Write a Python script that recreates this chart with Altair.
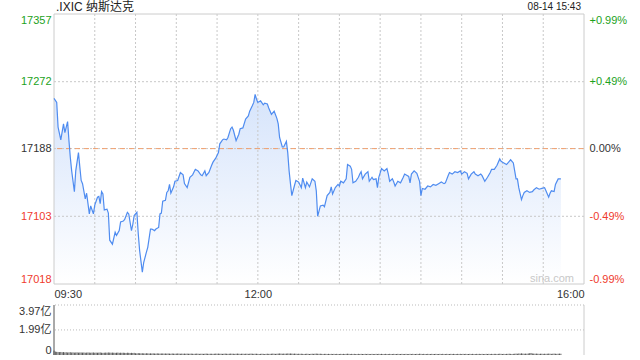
import json
import altair as alt
import pandas as pd

TITLE = ".IXIC 纳斯达克"
STAMP = "08-14 15:43"
WATERMARK = "sina.com"

# minutes after 09:30 and index level
minutes = [0, 2, 3, 5, 7, 8, 10, 11, 12, 13, 15, 16, 18, 19, 20, 21, 23, 24, 26, 27,
           29, 30, 32, 33, 34, 35, 36, 37, 39, 40, 41, 43, 45, 46, 48, 49, 51, 52, 54, 55,
           57, 58, 59, 61, 62, 63, 65, 66, 68, 69, 71, 72, 74, 75, 77, 78, 79, 80, 82, 83,
           84, 85, 86, 88, 89, 91, 93, 95, 96, 98, 100, 102, 104, 106, 108, 109, 111, 112, 114, 116,
           117, 119, 121, 122, 124, 125, 127, 128, 130, 131, 132, 134, 136, 137, 139, 141, 143, 144, 146, 147,
           148, 149, 150, 152, 154, 155, 157, 158, 160, 162, 164, 165, 166, 168, 169, 171, 172, 173, 174, 175,
           177, 178, 180, 182, 183, 185, 186, 188, 190, 192, 193, 194, 196, 198, 199, 201, 203, 204, 205, 207,
           209, 210, 211, 213, 215, 216, 218, 219, 220, 222, 224, 225, 226, 227, 229, 231, 232, 234, 235, 237,
           238, 239, 241, 243, 245, 246, 247, 249, 250, 251, 253, 255, 257, 258, 261, 262, 263, 265, 267, 269,
           270, 271, 273, 275, 277, 279, 281, 283, 285, 287, 288, 290, 291, 293, 295, 297, 299, 300, 302, 304,
           305, 307, 309, 310, 312, 314, 315, 317, 319, 321, 322, 324, 326, 328, 329, 331, 333, 335, 336, 338,
           339, 340, 341, 342, 344, 345, 346, 348, 350, 352, 353, 355, 357, 359, 361, 362, 364, 365, 366, 368,
           369, 371, 373]
prices = [17251, 17246, 17215, 17199, 17219, 17208, 17222, 17198, 17177, 17160, 17134, 17160, 17183, 17165, 17148, 17144, 17125, 17132, 17106, 17116,
          17106, 17117, 17127, 17128, 17119, 17134, 17131, 17111, 17112, 17107, 17073, 17068, 17083, 17079, 17085, 17096, 17097, 17099, 17108, 17106,
          17085, 17093, 17104, 17108, 17081, 17060, 17033, 17045, 17058, 17064, 17087, 17087, 17085, 17087, 17089, 17106, 17107, 17122, 17123, 17133,
          17135, 17143, 17132, 17140, 17147, 17148, 17158, 17155, 17144, 17139, 17152, 17155, 17162, 17160, 17155, 17154, 17160, 17154, 17158, 17167,
          17171, 17176, 17183, 17194, 17199, 17200, 17199, 17202, 17213, 17215, 17211, 17198, 17206, 17213, 17214, 17225, 17229, 17235, 17242, 17246,
          17256, 17250, 17246, 17248, 17243, 17245, 17244, 17239, 17231, 17235, 17226, 17219, 17202, 17190, 17190, 17197, 17183, 17160, 17144, 17129,
          17142, 17148, 17146, 17139, 17151, 17139, 17146, 17140, 17150, 17147, 17135, 17103, 17116, 17117, 17115, 17129, 17133, 17140, 17131, 17139,
          17143, 17141, 17147, 17145, 17150, 17168, 17166, 17162, 17145, 17147, 17152, 17156, 17159, 17150, 17156, 17159, 17147, 17152, 17149, 17150,
          17139, 17152, 17163, 17160, 17163, 17156, 17147, 17150, 17146, 17141, 17147, 17145, 17152, 17156, 17153, 17145, 17156, 17160, 17157, 17147,
          17129, 17138, 17137, 17141, 17140, 17143, 17142, 17144, 17146, 17144, 17145, 17154, 17158, 17156, 17159, 17158, 17160, 17156, 17159, 17157,
          17150, 17156, 17159, 17156, 17154, 17156, 17154, 17147, 17152, 17158, 17162, 17162, 17167, 17175, 17172, 17170, 17168, 17172, 17174, 17170,
          17160, 17150, 17150, 17139, 17124, 17129, 17133, 17135, 17133, 17134, 17136, 17139, 17137, 17138, 17139, 17135, 17127, 17132, 17135, 17134,
          17143, 17150, 17150]

# per-minute volume, in 亿
volumes = [0.35, 0.27, 0.25, 0.24, 0.23, 0.24, 0.22, 0.23, 0.21, 0.22, 0.20, 0.21, 0.22, 0.20, 0.21, 0.19, 0.20, 0.21, 0.19, 0.20,
           0.20, 0.19, 0.20, 0.18, 0.19, 0.20, 0.19, 0.18, 0.19, 0.20, 0.18, 0.19, 0.18, 0.19, 0.20, 0.18, 0.17, 0.18, 0.19, 0.18,
           0.20, 0.19, 0.18, 0.19, 0.18, 0.17, 0.18, 0.19, 0.17, 0.18, 0.17, 0.18, 0.17, 0.16, 0.18, 0.17, 0.16, 0.17, 0.16, 0.17,
           0.14, 0.13, 0.15, 0.14, 0.13, 0.14, 0.13, 0.12, 0.14, 0.13, 0.12, 0.13, 0.12, 0.13, 0.12, 0.11, 0.13, 0.12, 0.11, 0.12,
           0.12, 0.11, 0.12, 0.11, 0.12, 0.11, 0.10, 0.12, 0.11, 0.10, 0.11, 0.12, 0.11, 0.10, 0.11, 0.10, 0.11, 0.10, 0.11, 0.10,
           0.10, 0.11, 0.10, 0.09, 0.10, 0.11, 0.10, 0.09, 0.10, 0.10, 0.09, 0.10, 0.11, 0.10, 0.09, 0.10, 0.10, 0.09, 0.10, 0.11,
           0.10, 0.11, 0.10, 0.10, 0.09, 0.10, 0.11, 0.10, 0.09, 0.10, 0.11, 0.10, 0.10, 0.09, 0.10, 0.11, 0.10, 0.09, 0.10, 0.10,
           0.09, 0.10, 0.10, 0.09, 0.10, 0.11, 0.10, 0.09, 0.10, 0.10, 0.09, 0.08, 0.09, 0.10, 0.09, 0.08, 0.09, 0.10, 0.09, 0.09,
           0.10, 0.11, 0.10, 0.09, 0.10, 0.11, 0.12, 0.11, 0.10, 0.11, 0.10, 0.11, 0.12, 0.11, 0.12, 0.11, 0.10, 0.11, 0.10, 0.09,
           0.10, 0.09, 0.10, 0.09, 0.08, 0.09, 0.10, 0.09, 0.08, 0.09, 0.10, 0.09, 0.10, 0.11, 0.10, 0.09, 0.10, 0.09, 0.08, 0.09,
           0.09, 0.08, 0.09, 0.08, 0.09, 0.08, 0.09, 0.08, 0.09, 0.08, 0.08, 0.09, 0.08, 0.09, 0.08, 0.09, 0.10, 0.09, 0.08, 0.09,
           0.08, 0.09, 0.08, 0.08, 0.09, 0.08, 0.09, 0.08, 0.08, 0.09, 0.08, 0.09, 0.08, 0.08, 0.09, 0.08, 0.08, 0.09, 0.08, 0.09,
           0.08, 0.09, 0.08, 0.08, 0.09, 0.08, 0.08, 0.09, 0.08, 0.08, 0.09, 0.08, 0.08, 0.09, 0.08, 0.08, 0.09, 0.08, 0.08, 0.09,
           0.08, 0.08, 0.09, 0.08, 0.09, 0.08, 0.08, 0.09, 0.08, 0.10, 0.09, 0.08, 0.09, 0.08, 0.08, 0.09, 0.08, 0.08, 0.09, 0.08,
           0.08, 0.09, 0.08, 0.08, 0.09, 0.08, 0.09, 0.08, 0.08, 0.09, 0.08, 0.08, 0.09, 0.08, 0.09, 0.08, 0.08, 0.09, 0.08, 0.09,
           0.08, 0.09, 0.08, 0.09, 0.08, 0.08, 0.09, 0.08, 0.09, 0.08, 0.08, 0.09, 0.08, 0.09, 0.08, 0.09, 0.08, 0.08, 0.09, 0.08,
           0.09, 0.08, 0.09, 0.08, 0.09, 0.09, 0.08, 0.09, 0.10, 0.09, 0.08, 0.09, 0.08, 0.09, 0.09, 0.10, 0.09, 0.08, 0.09, 0.10,
           0.11, 0.10, 0.12, 0.11, 0.13, 0.11, 0.10, 0.11, 0.10, 0.12, 0.14, 0.16, 0.12, 0.11, 0.10, 0.11, 0.10, 0.09, 0.10, 0.10,
           0.09, 0.10, 0.09, 0.10, 0.11, 0.10, 0.09, 0.10, 0.11, 0.10, 0.09, 0.10, 0.11, 0.10]

prev_close = 17188
price_ticks = [17018, 17103, 17188, 17272, 17357]
pct_labels = ["-0.99%", "-0.49%", "0.00%", "+0.49%", "+0.99%"]
grid_prices = [17103, 17272]
grid_minutes = [30, 60, 90, 120, 150, 180, 210, 240, 270, 300, 330, 360]
time_ticks = [0, 150, 390]
time_labels = ["09:30", "12:00", "16:00"]
vol_ticks = [0, 1.99, 3.97]
vol_labels = ["0", "1.99亿", "3.97亿"]
vol_grid = [1.99, 3.97]
session_end = 390

# layout (pixels)
W, H = 530, 341
PRICE_H = 270
VOL_TOP = 291

FONT = "Liberation Sans, Arial, Noto Sans CJK SC, sans-serif"
GREEN = "#1ca21c"
RED = "#ef3b2d"
DARK = "#333333"
GRID = "#c8c8c8"
LINE = "#4f8cf0"

price_df = pd.DataFrame({"minute": minutes, "price": prices})
price_df["base"] = price_ticks[0]
vol_df = pd.DataFrame({"minute": list(range(len(volumes))), "vol": volumes})
vol_df["zero"] = vol_ticks[0]

x_scale = alt.Scale(domain=[0, session_end], nice=False, zero=False)
y_price = alt.Scale(domain=[price_ticks[0], price_ticks[-1]], range=[PRICE_H, 0], nice=False, zero=False)
y_vol = alt.Scale(domain=[vol_ticks[0], vol_ticks[-1]], range=[H, VOL_TOP], nice=False, zero=False)

label_color = {
    "condition": [
        {"test": f"datum.value > {prev_close}", "value": GREEN},
        {"test": f"datum.value < {prev_close}", "value": RED},
    ],
    "value": DARK,
}

x_axis = alt.Axis(
    values=time_ticks,
    labelExpr=f"{json.dumps(time_labels)}[indexof({json.dumps(time_ticks)}, datum.value)]",
    labelFlush=True, ticks=False, domain=False, grid=False,
    offset=PRICE_H - H, labelPadding=4, labelFont=FONT, labelFontSize=11,
    labelColor=DARK, title=None,
)
left_axis = alt.Axis(
    orient="left", values=price_ticks, format="d", labelFlush=True, ticks=False,
    domain=False, grid=False, labelPadding=3, labelColor=label_color,
    labelFont=FONT, labelFontSize=11, title=None,
)
right_axis = alt.Axis(
    orient="right", values=price_ticks,
    labelExpr=f"{json.dumps(pct_labels)}[indexof({json.dumps(price_ticks)}, datum.value)]",
    labelFlush=True, ticks=False, domain=False, grid=False, labelPadding=5,
    labelColor=label_color, labelFont=FONT, labelFontSize=11, title=None,
)
vol_axis = alt.Axis(
    orient="left", values=vol_ticks,
    labelExpr=f"{json.dumps(vol_labels, ensure_ascii=False)}[indexof({json.dumps(vol_ticks)}, datum.value)]",
    labelFlush=True, ticks=False, domain=False, grid=False, labelPadding=3,
    labelColor=DARK, labelFont=FONT, labelFontSize=11, title=None,
)

X = lambda f: alt.X(f, scale=x_scale, axis=x_axis)
YP = lambda f: alt.Y(f, scale=y_price, axis=left_axis)
YV = lambda f: alt.Y(f, scale=y_vol, axis=vol_axis)

gradient = alt.Gradient(
    gradient="linear",
    stops=[alt.GradientStop(color="#d6e4fb", offset=0), alt.GradientStop(color="#ffffff", offset=1)],
    x1=1, x2=1, y1=0, y2=1,
)

area = alt.Chart(price_df).mark_area(fill=gradient, line=False).encode(
    x=X("minute:Q"), y=YP("price:Q"), y2="base:Q",
)

vgrid_df = pd.DataFrame({"minute": grid_minutes})
vgrid_df["top"] = price_ticks[-1]
vgrid_df["bottom"] = price_ticks[0]
vgrid = alt.Chart(vgrid_df).mark_rule(color=GRID, strokeWidth=1, strokeDash=[2, 2]).encode(
    x=X("minute:Q"), y=YP("top:Q"), y2="bottom:Q",
)

hgrid = alt.Chart(pd.DataFrame({"p": grid_prices + [prev_close]})).mark_rule(
    color=GRID, strokeWidth=1, strokeDash=[2, 2]
).encode(y=YP("p:Q"))

midline = alt.Chart(pd.DataFrame({"p": [prev_close]})).mark_rule(
    color="#f0a070", strokeWidth=1, strokeDash=[5, 4]
).encode(y=YP("p:Q"))

border_df = pd.DataFrame({
    "x": [0, session_end, 0, 0],
    "x2": [0, session_end, session_end, session_end],
    "y": [price_ticks[0], price_ticks[0], price_ticks[0], price_ticks[-1]],
    "y2": [price_ticks[-1], price_ticks[-1], price_ticks[0], price_ticks[-1]],
})
border = alt.Chart(border_df).mark_rule(color="#cccccc", strokeWidth=1).encode(
    x=X("x:Q"), x2="x2:Q", y=YP("y:Q"), y2="y2:Q",
)

line = alt.Chart(price_df).mark_line(color=LINE, strokeWidth=1.2).encode(
    x=X("minute:Q"), y=YP("price:Q"),
)

title_txt = alt.Chart(pd.DataFrame({"t": [TITLE]})).mark_text(
    align="left", baseline="middle", font=FONT, fontSize=12, color="#222222"
).encode(text="t:N", x=alt.value(2), y=alt.value(-7))
stamp_txt = alt.Chart(pd.DataFrame({"t": [STAMP]})).mark_text(
    align="right", baseline="middle", font=FONT, fontSize=10, color="#222222"
).encode(text="t:N", x=alt.value(527), y=alt.value(-7))
mark_txt = alt.Chart(pd.DataFrame({"t": [WATERMARK]})).mark_text(
    align="center", baseline="middle", font=FONT, fontSize=11, color="#c8c8c8"
).encode(text="t:N", x=alt.value(498), y=alt.value(265))

price_main = alt.layer(area, vgrid, hgrid, midline, border, line, title_txt, stamp_txt, mark_txt)

pct_layer = alt.Chart(price_df).mark_line(opacity=0).encode(
    x=X("minute:Q"),
    y=alt.Y("price:Q", scale=y_price, axis=right_axis),
)

price_block = alt.layer(price_main, pct_layer).resolve_axis(y="independent")

vgrid_vol = alt.Chart(pd.DataFrame({"v": vol_grid})).mark_rule(
    color="#bbbbbb", strokeWidth=1, strokeDash=[1, 2]
).encode(y=YV("v:Q"))

bars = alt.Chart(vol_df).mark_rule(color="#555555", strokeWidth=1).encode(
    x=X("minute:Q"), y=YV("vol:Q"), y2="zero:Q",
)

vb_df = pd.DataFrame({"x": [0, session_end], "lo": [vol_ticks[0]] * 2, "hi": [vol_ticks[-1]] * 2,
                      "c": ["left", "right"]})
vol_border = alt.Chart(vb_df).mark_rule(strokeWidth=1).encode(
    x=X("x:Q"), y=YV("lo:Q"), y2="hi:Q",
    color=alt.Color("c:N", scale=alt.Scale(domain=["left", "right"], range=["#555555", "#cccccc"]), legend=None),
)

vol_block = alt.layer(vgrid_vol, bars, vol_border)

chart = alt.layer(price_block, vol_block).resolve_scale(y="independent").properties(
    width=W, height=H,
    autosize=alt.AutoSizeParams(type="none"),
    padding={"left": 54, "top": 14, "right": 56, "bottom": 5},
).configure_view(stroke=None)

chart.save("out.html", embed_options={"renderer": "svg", "actions": False})
